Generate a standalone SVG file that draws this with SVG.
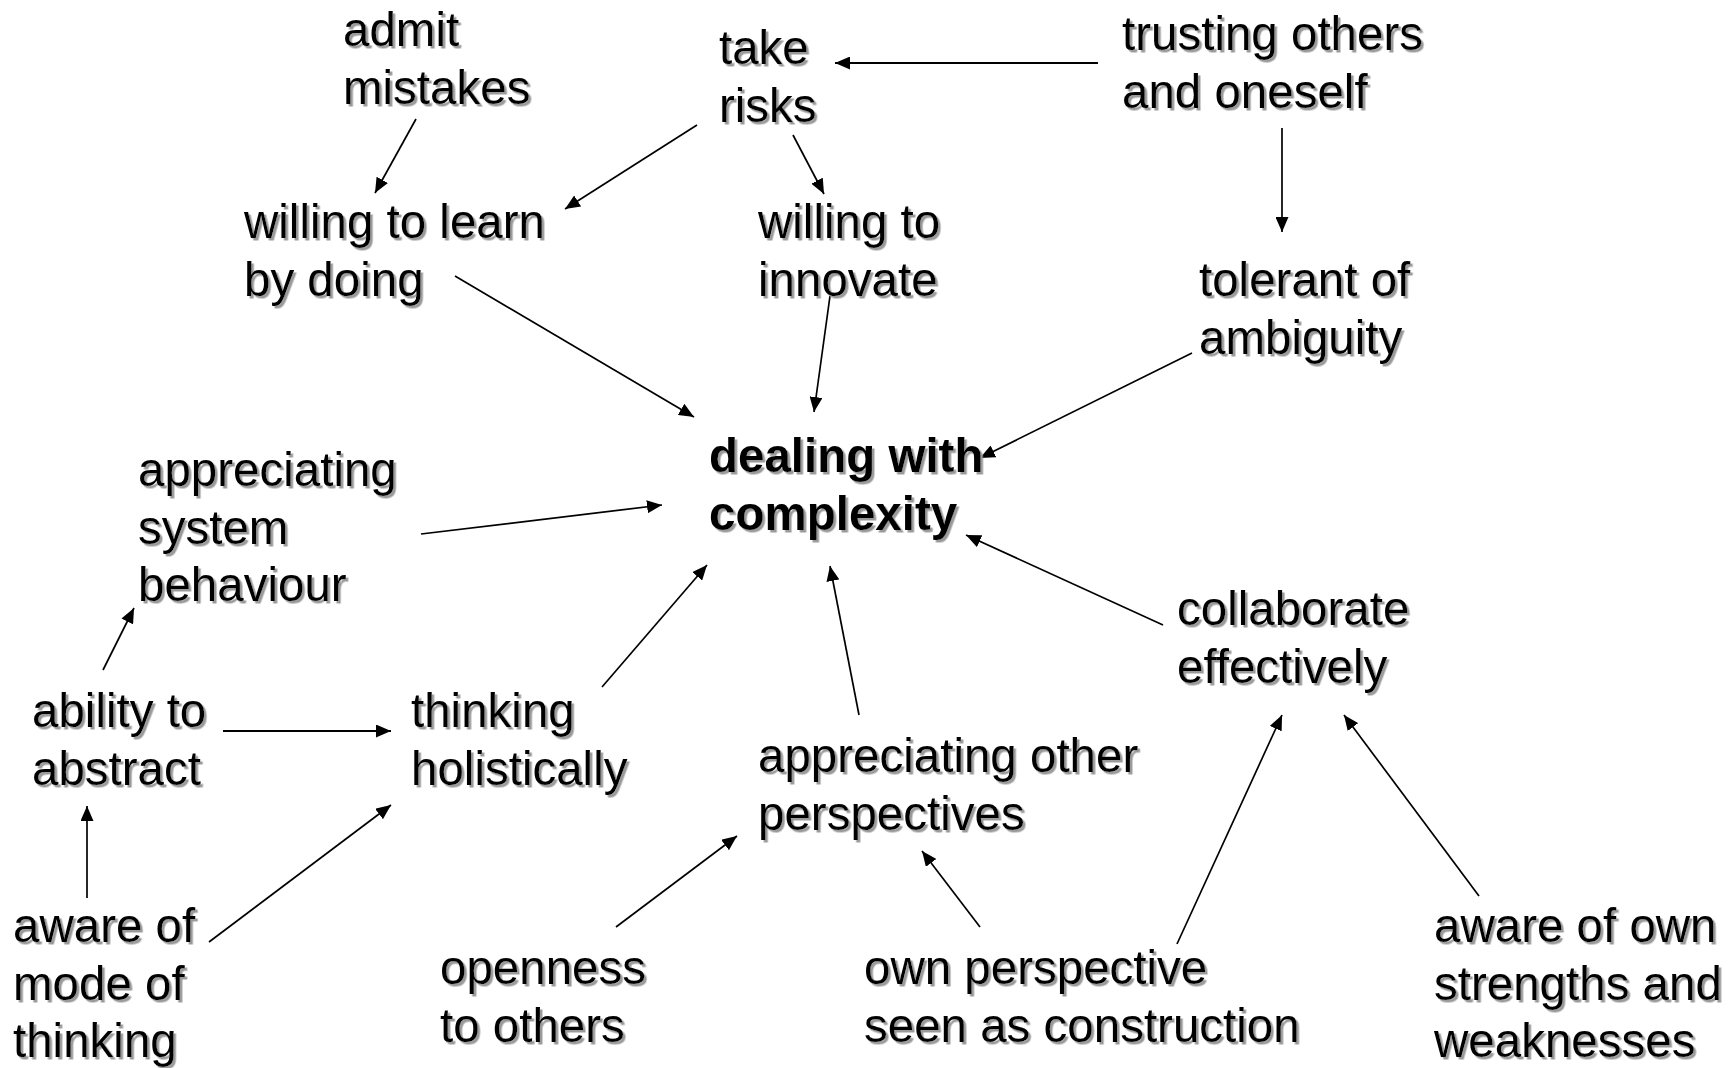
<svg xmlns="http://www.w3.org/2000/svg" width="1731" height="1068" viewBox="0 0 1731 1068">
  <defs>
    <filter id="shadow" x="-5%" y="-10%" width="115%" height="130%">
      <feDropShadow dx="2.5" dy="2.5" stdDeviation="0.6" flood-color="#9a9a9a" flood-opacity="1"/>
    </filter>
    <marker id="head" viewBox="0 0 15 13" refX="15" refY="6.5" markerWidth="15" markerHeight="13" markerUnits="userSpaceOnUse" orient="auto">
      <path d="M0,0 L15,6.5 L0,13 Z" fill="#000"/>
    </marker>
  </defs>
  <style>
    .lbl { font-family: "Liberation Sans", Arial, sans-serif; font-size: 47.5px; fill: #000; filter: url(#shadow); }
    .main { font-weight: bold; }
    .edge { stroke: #000; stroke-width: 1.7; fill: none; marker-end: url(#head); }
    .flat { stroke-width: 2.2; }
  </style>
  <rect width="1731" height="1068" fill="#fff"/>

  <!-- connectors -->
  <g id="connectors">
    <line class="edge" x1="416" y1="119" x2="375" y2="193"/>
    <line class="edge" x1="697" y1="125" x2="565" y2="209"/>
    <line class="edge" x1="793" y1="135" x2="824" y2="194"/>
    <line class="edge flat" x1="1098" y1="63" x2="835" y2="63"/>
    <line class="edge" x1="1282" y1="128" x2="1282" y2="232"/>
    <line class="edge" x1="455" y1="276" x2="694" y2="417"/>
    <line class="edge" x1="830" y1="296" x2="814" y2="412"/>
    <line class="edge" x1="1192" y1="353" x2="980" y2="458"/>
    <line class="edge" x1="421" y1="534" x2="662" y2="505"/>
    <line class="edge" x1="602" y1="687" x2="707" y2="565"/>
    <line class="edge" x1="859" y1="715" x2="830" y2="566"/>
    <line class="edge" x1="1163" y1="625" x2="966" y2="535"/>
    <line class="edge" x1="103" y1="670" x2="134" y2="608"/>
    <line class="edge flat" x1="223" y1="731" x2="391" y2="731"/>
    <line class="edge" x1="87" y1="898" x2="87" y2="806"/>
    <line class="edge" x1="209" y1="942" x2="391" y2="805"/>
    <line class="edge" x1="616" y1="927" x2="737" y2="836"/>
    <line class="edge" x1="980" y1="927" x2="922" y2="851"/>
    <line class="edge" x1="1177" y1="944" x2="1282" y2="715"/>
    <line class="edge" x1="1479" y1="896" x2="1344" y2="715"/>
  </g>

  <!-- nodes -->
  <g id="admit-mistakes"><text class="lbl" x="343" y="46">admit<tspan x="343" dy="57.5">mistakes</tspan></text></g>
  <g id="take-risks"><text class="lbl" x="719" y="64">take<tspan x="719" dy="57.5">risks</tspan></text></g>
  <g id="trusting"><text class="lbl" x="1122" y="50">trusting others<tspan x="1122" dy="57.5">and oneself</tspan></text></g>
  <g id="learn-by-doing"><text class="lbl" x="244" y="238">willing to learn<tspan x="244" dy="57.5">by doing</tspan></text></g>
  <g id="innovate"><text class="lbl" x="758" y="238">willing to<tspan x="758" dy="57.5">innovate</tspan></text></g>
  <g id="ambiguity"><text class="lbl" x="1199" y="296">tolerant of<tspan x="1199" dy="57.5">ambiguity</tspan></text></g>
  <g id="complexity"><text class="lbl main" x="709" y="472">dealing with<tspan x="709" dy="57.5">complexity</tspan></text></g>
  <g id="system-behaviour"><text class="lbl" x="138" y="486">appreciating<tspan x="138" dy="57.5">system</tspan><tspan x="138" dy="57.5">behaviour</tspan></text></g>
  <g id="abstract"><text class="lbl" x="32" y="727">ability to<tspan x="32" dy="57.5">abstract</tspan></text></g>
  <g id="holistic"><text class="lbl" x="411" y="727">thinking<tspan x="411" dy="57.5">holistically</tspan></text></g>
  <g id="collaborate"><text class="lbl" x="1177" y="625">collaborate<tspan x="1177" dy="57.5">effectively</tspan></text></g>
  <g id="other-perspectives"><text class="lbl" x="758" y="772">appreciating other<tspan x="758" dy="57.5">perspectives</tspan></text></g>
  <g id="mode-of-thinking"><text class="lbl" x="13" y="942">aware of<tspan x="13" dy="57.5">mode of</tspan><tspan x="13" dy="57.5">thinking</tspan></text></g>
  <g id="openness"><text class="lbl" x="440" y="984">openness<tspan x="440" dy="57.5">to others</tspan></text></g>
  <g id="own-perspective"><text class="lbl" x="864" y="984">own perspective<tspan x="864" dy="57.5">seen as construction</tspan></text></g>
  <g id="strengths"><text class="lbl" x="1434" y="942">aware of own<tspan x="1434" dy="57.5">strengths and</tspan><tspan x="1434" dy="57.5">weaknesses</tspan></text></g>
</svg>
